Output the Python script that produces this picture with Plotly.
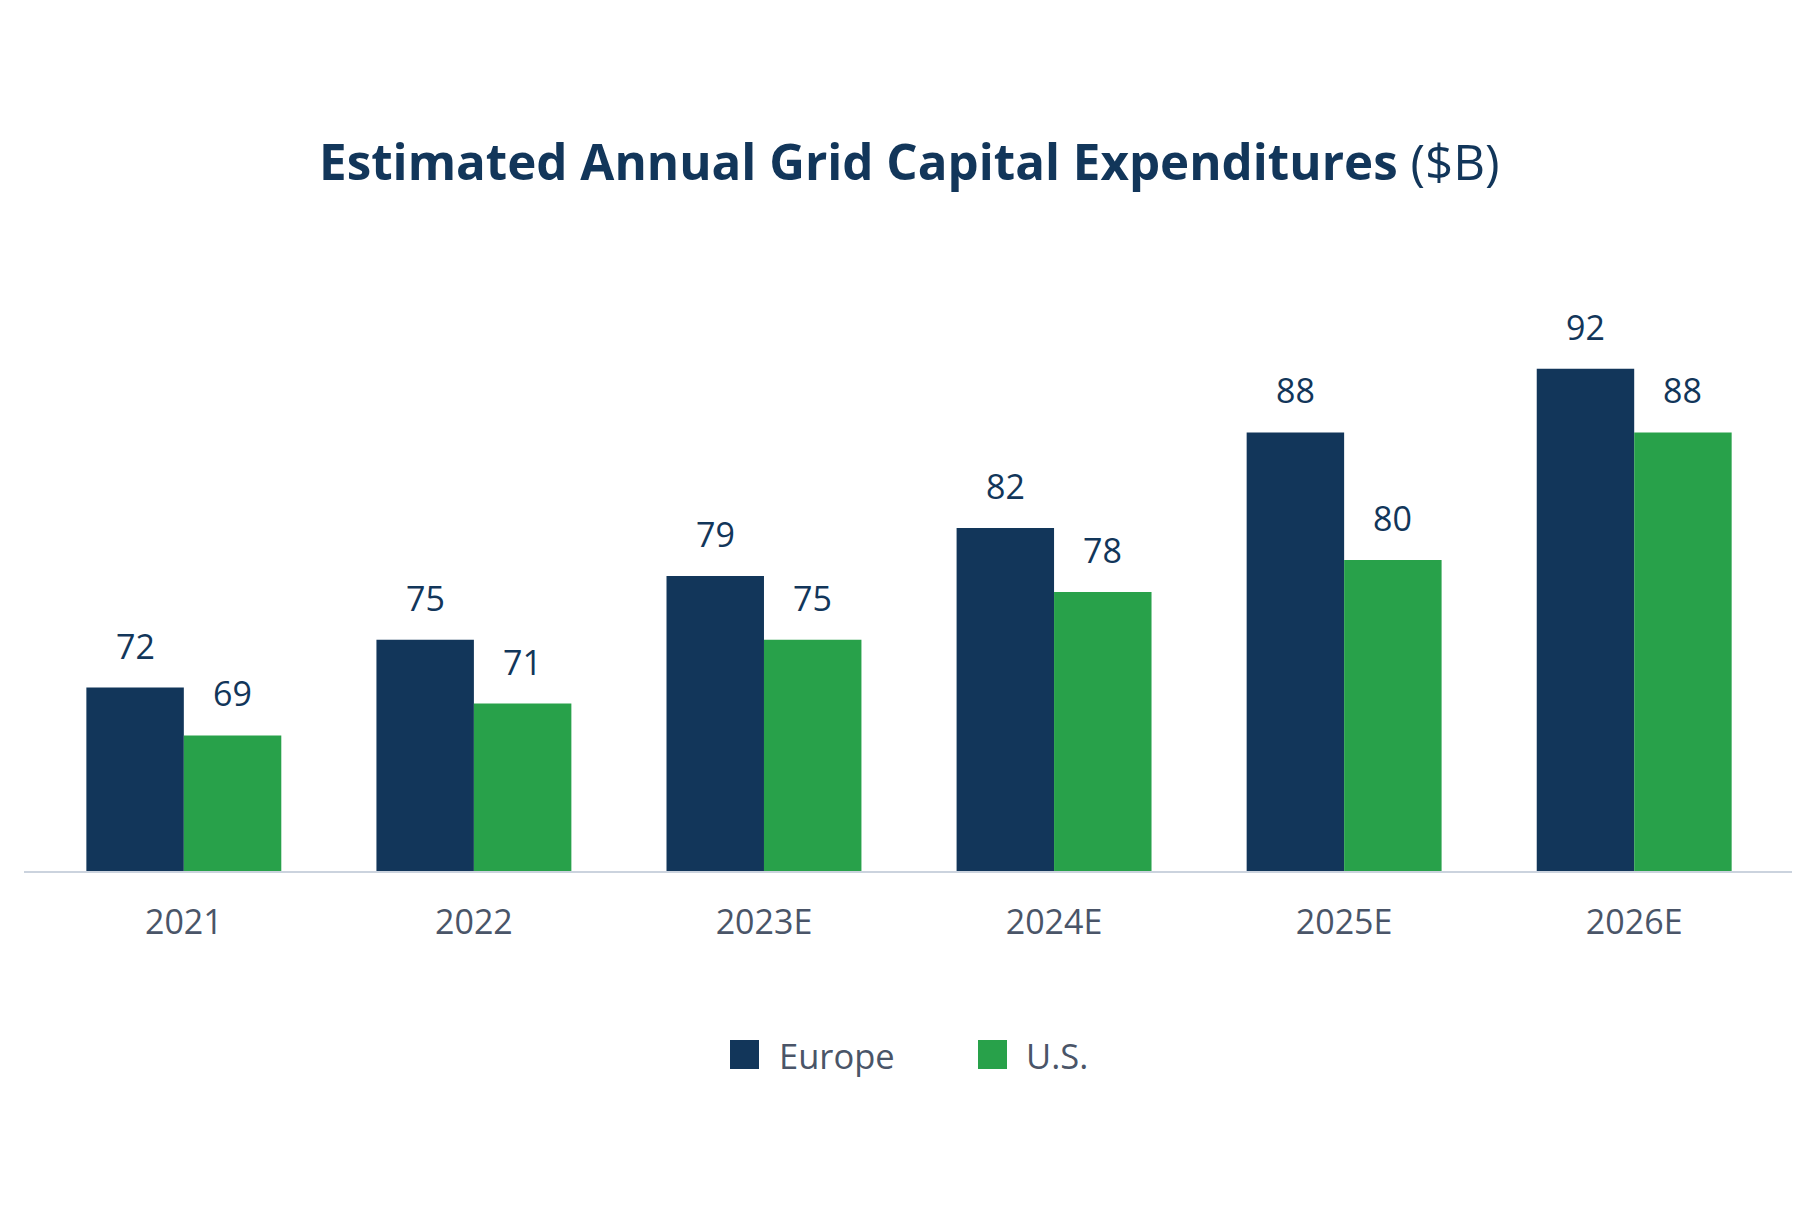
import plotly.graph_objects as go

years = ["2021", "2022", "2023E", "2024E", "2025E", "2026E"]
europe = [72, 75, 79, 82, 88, 92]
us = [69, 71, 75, 78, 80, 88]
series_names = ["Europe", "U.S."]

NAVY = "#12365A"
GREEN = "#28A14A"
GRAY = "#4A5568"
FONT = "Open Sans"

# plot-area geometry (px) used for the hand-drawn legend
W, H = 1818, 1209
ML, MR, MT, MB = 16, 34, 249, 346
PW, PH = W - ML - MR, H - MT - MB

def px_to_paper(x, y):
    return (x - ML) / PW, (H - MB - y) / PH

fig = go.Figure()
fig.add_trace(go.Bar(name=series_names[0], x=years, y=europe, showlegend=False,
                     marker=dict(color=NAVY, line=dict(width=0))))
fig.add_trace(go.Bar(name=series_names[1], x=years, y=us, showlegend=False,
                     marker=dict(color=GREEN, line=dict(width=0))))

annotations = []
for vals, shift in ((europe, -48.5), (us, 48.5)):
    for i, v in enumerate(vals):
        annotations.append(dict(
            x=i, y=v, xref="x", yref="y", text=str(v), showarrow=False,
            xshift=shift, yshift=17, yanchor="bottom",
            font=dict(family=FONT, size=34, color=NAVY),
        ))

# legend (swatch + label)
shapes = []
legend_items = [(series_names[0], NAVY, 722, 769), (series_names[1], GREEN, 970, 1016)]
for name, col, sx, tx in legend_items:
    x0, y0 = px_to_paper(sx, 1061)
    x1, y1 = px_to_paper(sx + 29, 1032)
    shapes.append(dict(type="rect", xref="paper", yref="paper", x0=x0, x1=x1, y0=y0, y1=y1,
                       fillcolor=col, line=dict(width=0)))
    tx_p, ty_p = px_to_paper(tx, 1047)
    annotations.append(dict(x=tx_p, y=ty_p, xref="paper", yref="paper", text=name,
                            showarrow=False, xanchor="left", yanchor="middle",
                            font=dict(family=FONT, size=34.5, color=GRAY)))

fig.update_layout(
    width=W, height=H,
    paper_bgcolor="white", plot_bgcolor="white",
    barmode="group", bargap=0.328, bargroupgap=0,
    margin=dict(l=ML, r=MR, t=MT, b=MB),
    title=dict(
        text="<b>Estimated Annual Grid Capital Expenditures</b> ($B)",
        x=0.4958, xanchor="center", y=1 - 155 / H, yanchor="middle",
        font=dict(family=FONT, size=49.3, color=NAVY),
    ),
    xaxis=dict(
        type="category", range=[-0.551, 5.544], showgrid=False, showline=True,
        linecolor="#CBD3DE", linewidth=2,
        ticks="", ticklabelstandoff=20,
        tickfont=dict(family=FONT, size=34, color=GRAY),
    ),
    yaxis=dict(range=[60.5, 99], visible=False, showgrid=False, zeroline=False),
    showlegend=False,
    annotations=annotations,
    shapes=shapes,
)

fig.write_html("out.html")
